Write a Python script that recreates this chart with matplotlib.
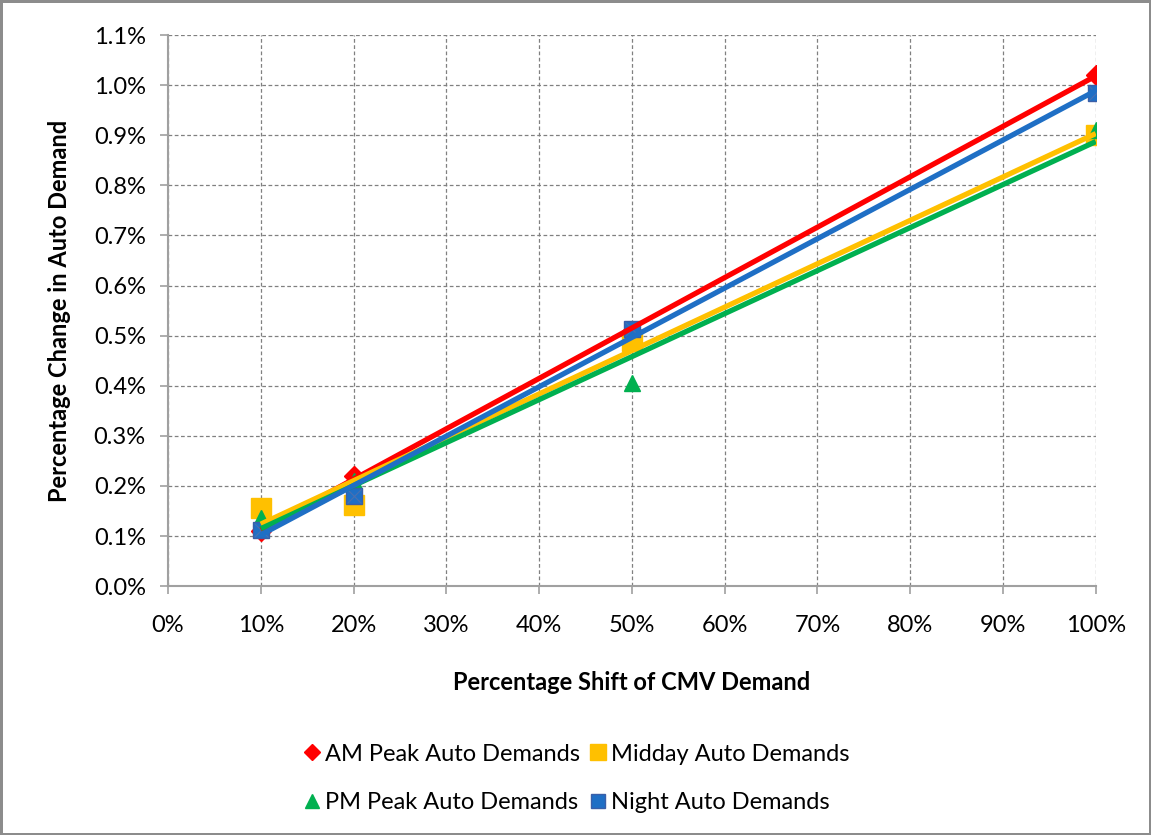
import numpy as np
import matplotlib
matplotlib.use('Agg')
import matplotlib.pyplot as plt

plt.rcParams['font.family'] = ['Lato', 'DejaVu Sans']

shift = [10, 20, 50, 100]
am_peak = [0.11, 0.22, 0.51, 1.02]
midday = [0.156, 0.162, 0.49, 0.90]
pm_peak = [0.136, 0.21, 0.405, 0.91]
night = [0.112, 0.18, 0.513, 0.984]

labels = ['AM Peak Auto Demands', 'Midday Auto Demands', 'PM Peak Auto Demands', 'Night Auto Demands']
colors = ['#ff0000', '#ffc000', '#00b050', '#1f6fc5']

fig = plt.figure(figsize=(11.51, 8.35), dpi=100, edgecolor='#8c8c8c', linewidth=2.5)
ax = fig.add_axes([0.146, 0.298, 0.806, 0.66])

x = np.array(shift)
series = [am_peak, midday, pm_peak, night]

# markers
h_am, = ax.plot(x, am_peak, 'D', color=colors[0], markersize=10, linestyle='none', zorder=3)
h_md, = ax.plot(x, midday, 's', color=colors[1], markersize=14, linestyle='none', zorder=3)
h_pm, = ax.plot(x, pm_peak, '^', color=colors[2], markersize=12, linestyle='none', zorder=3)
h_nt, = ax.plot(x, night, 's', color=colors[3], markersize=12, markeredgecolor='#3a5fa8', linestyle='none', zorder=3)
ax.plot(x, night, 'x', color='#4a6fb0', markersize=10, markeredgewidth=0.8, linestyle='none', zorder=3)

# linear trendlines
for vals, c in zip(series, colors):
    k, b = np.polyfit(x, vals, 1)
    ax.plot([10, 100], [k * 10 + b, k * 100 + b], color=c, linewidth=3.8, zorder=4, solid_capstyle='butt')

ax.set_xlim(0, 100)
ax.set_ylim(0, 1.1)
ax.set_xticks(np.arange(0, 101, 10))
ax.set_yticks(np.arange(0, 1.11, 0.1))
ax.set_xticklabels(['%d%%' % v for v in range(0, 101, 10)])
ax.set_yticklabels(['%.1f%%' % (v / 10) for v in range(0, 12)])
ax.grid(True, color='#808080', linestyle='--', linewidth=0.9, dashes=(3, 2))
ax.set_axisbelow(True)
for s in ['top', 'right']:
    ax.spines[s].set_visible(False)
for s in ['left', 'bottom']:
    ax.spines[s].set_color('#a0a0a0')
    ax.spines[s].set_linewidth(1.5)
ax.tick_params(axis='both', colors='#a0a0a0', labelcolor='black', labelsize=17, length=6, width=1.2, direction='out')
ax.tick_params(axis='x', pad=15)
ax.tick_params(axis='y', pad=10)

ax.set_xlabel('Percentage Shift of CMV Demand', fontsize=17, fontweight='bold', labelpad=25)
ax.set_ylabel('Percentage Change in Auto Demand', fontsize=17, fontweight='bold', labelpad=16)

fig.legend([h_am, h_pm, h_md, h_nt], [labels[0], labels[2], labels[1], labels[3]],
           ncol=2, loc='center', bbox_to_anchor=(0.5, 0.068), frameon=False,
           fontsize=17, handletextpad=0.1, columnspacing=0.3, labelspacing=1.15,
           handlelength=0.9, markerscale=0.85)

fig.savefig('out.png', dpi=100)
plt.close()
